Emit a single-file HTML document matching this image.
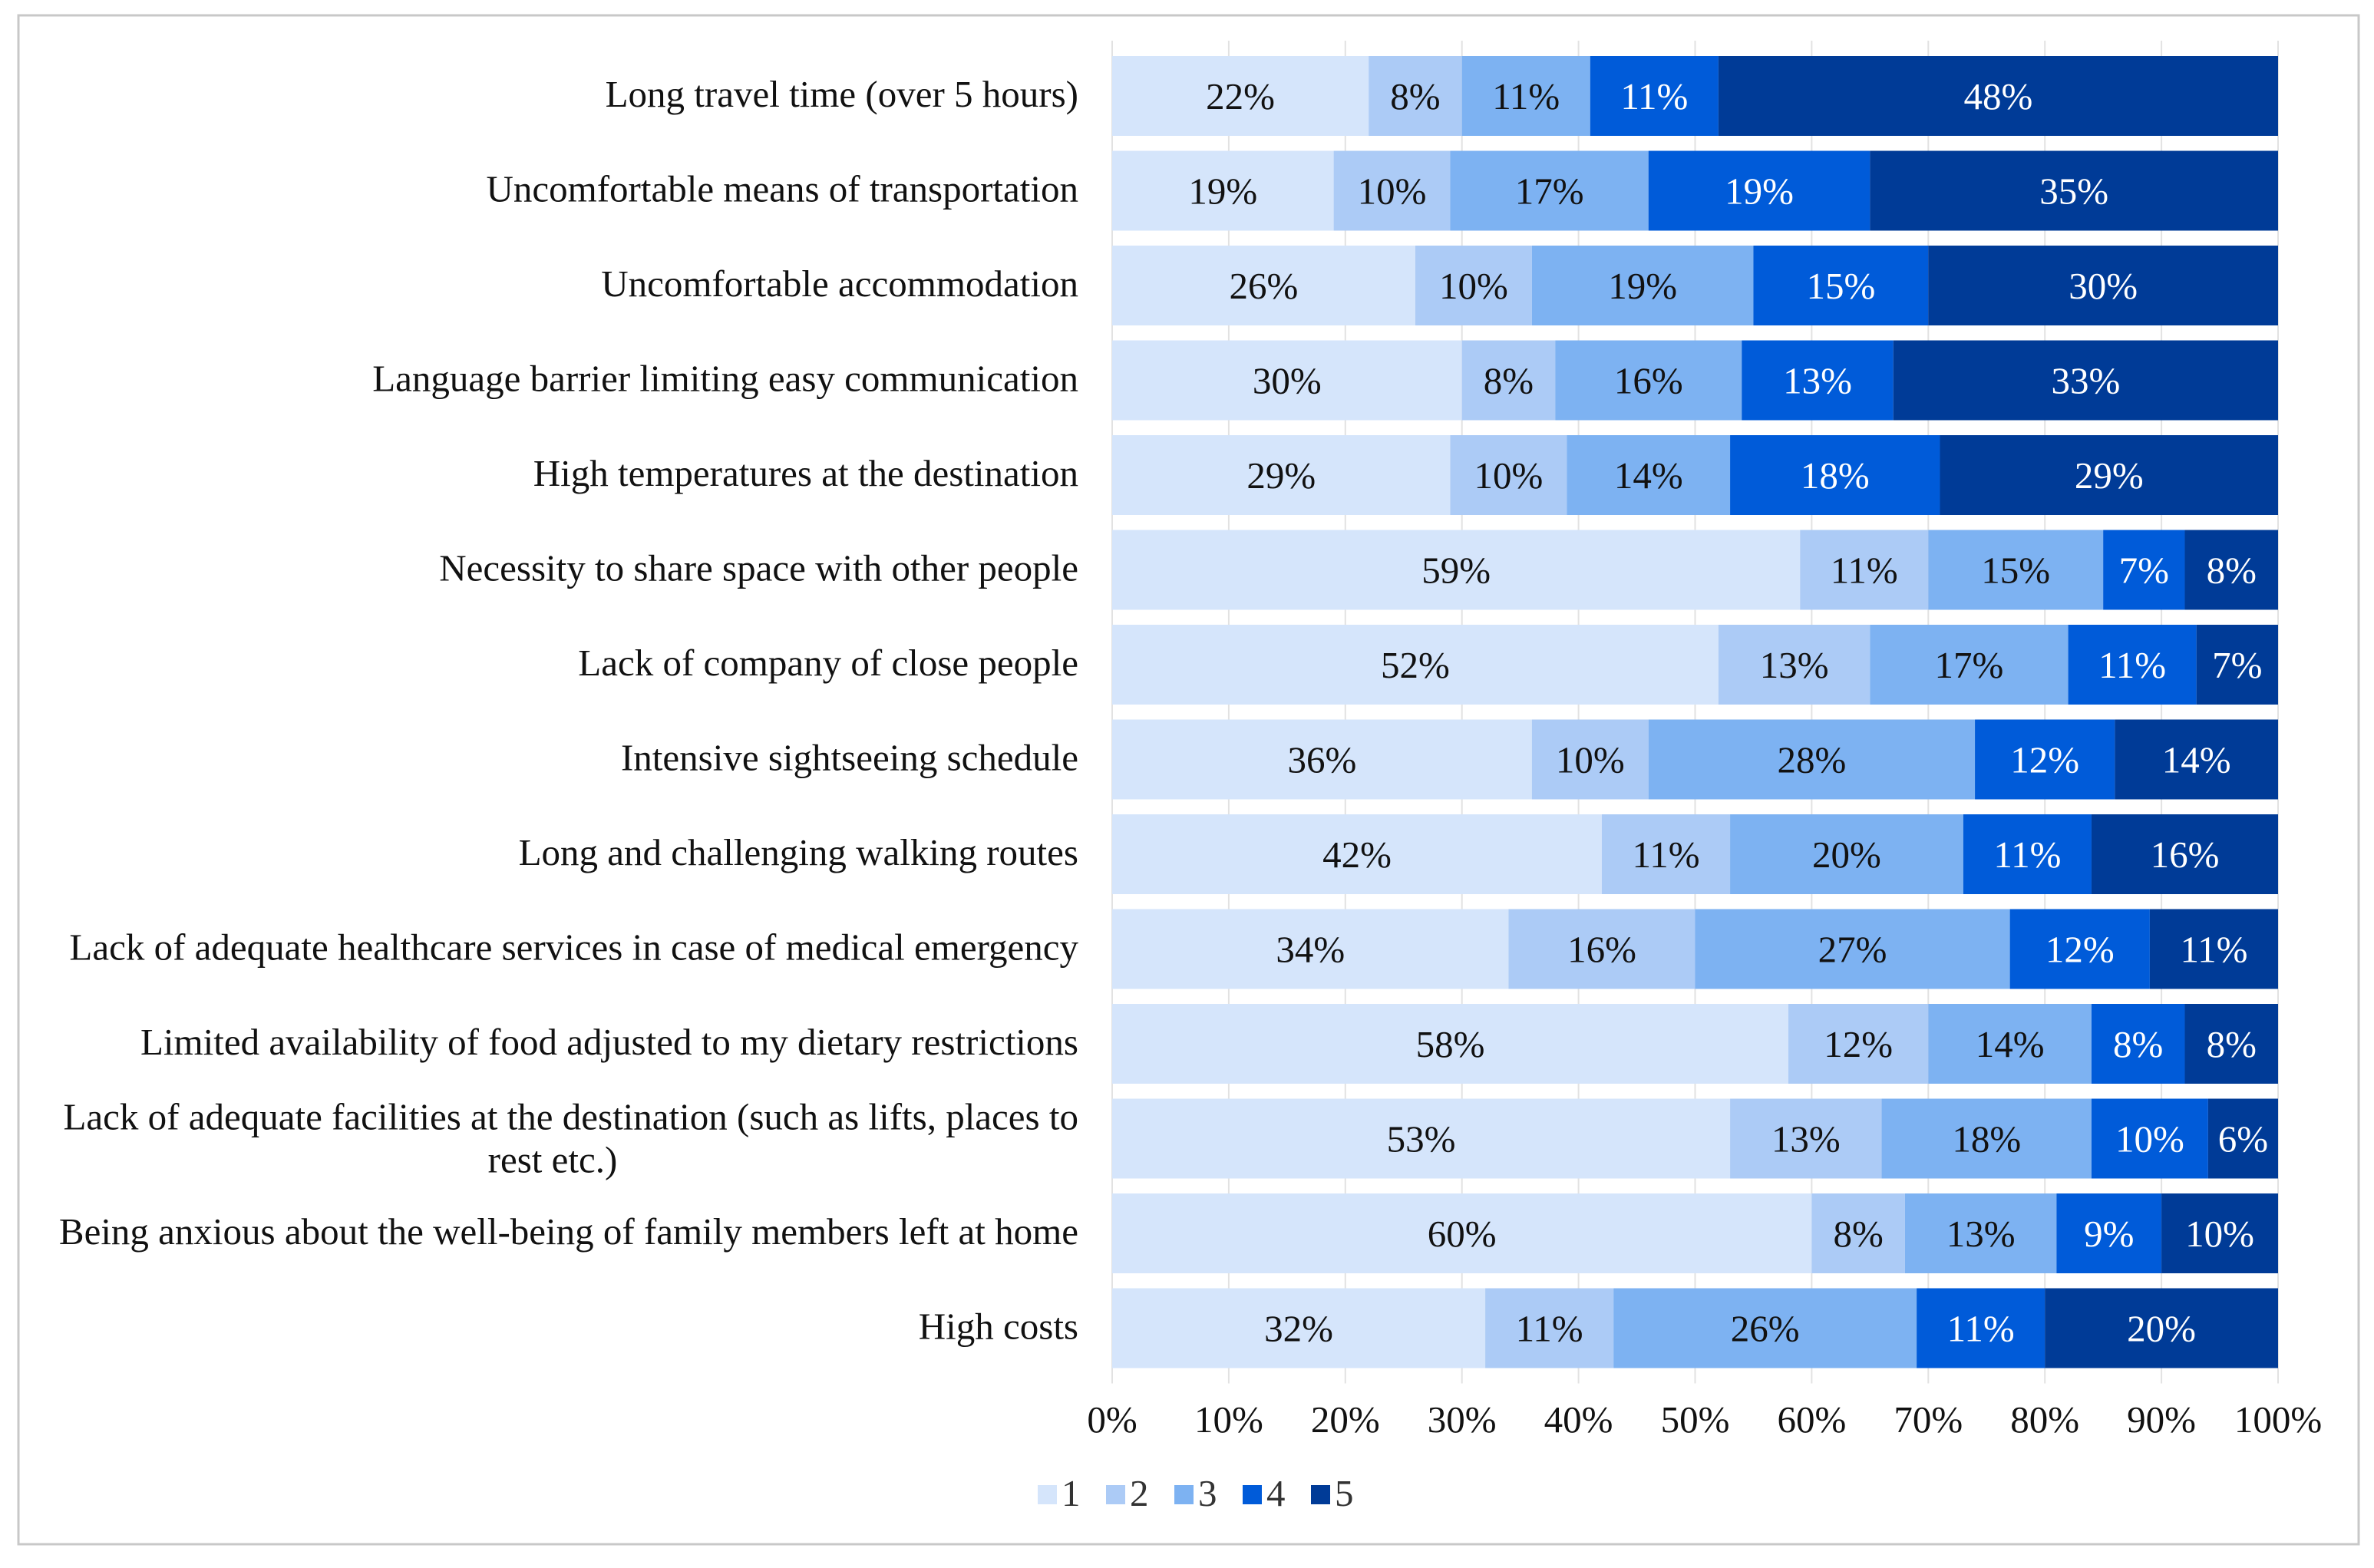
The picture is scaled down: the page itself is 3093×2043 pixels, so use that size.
<!DOCTYPE html>
<html><head><meta charset="utf-8"><style>
html,body{margin:0;padding:0;background:#fff;}
svg{display:block;}
text{font-family:"Liberation Serif","Times New Roman",serif;}
</style></head><body>
<svg id="chart" width="3093" height="2043" viewBox="0 0 3093 2043">
<rect x="24" y="20" width="3049" height="1992" fill="#fff" stroke="#c8c8c8" stroke-width="3"/>
<g id="grid"></g><g id="bars"></g><g id="labels"></g><g id="ticks"></g><g id="legend"></g>
</svg>
<script>
const categories = ["Long travel time (over 5 hours)","Uncomfortable means of transportation","Uncomfortable accommodation","Language barrier limiting easy communication","High temperatures at the destination","Necessity to share space with other people","Lack of company of close people","Intensive sightseeing schedule","Long and challenging walking routes","Lack of adequate healthcare services in case of medical emergency","Limited availability of food adjusted to my dietary restrictions","Lack of adequate facilities at the destination (such as lifts, places to|rest etc.)","Being anxious about the well-being of family members left at home","High costs"];
const s1 = [22,19,26,30,29,59,52,36,42,34,58,53,60,32];
const s2 = [8,10,10,8,10,11,13,10,11,16,12,13,8,11];
const s3 = [11,17,19,16,14,15,17,28,20,27,14,18,13,26];
const s4 = [11,19,15,13,18,7,11,12,11,12,8,10,9,11];
const s5 = [48,35,30,33,29,8,7,14,16,11,8,6,10,20];
const seriesNames = ["1","2","3","4","5"];
const tickValues = [0,10,20,30,40,50,60,70,80,90,100];
const colors = ["#d5e5fb","#accbf6","#7db2f2","#005bd9","#003b97"];
const textColors = ["#111","#111","#111","#fff","#fff"];
const NS="http://www.w3.org/2000/svg";
const X0=1449,X1=2968,Y0=125,PITCH=123.5,BH=104,FS=49;
const xs=v=>X0+(X1-X0)*v/100;
const yc=i=>Y0+PITCH*i;
function mk(tag,attrs,parent){const e=document.createElementNS(NS,tag);for(const k in attrs)e.setAttribute(k,attrs[k]);parent.appendChild(e);return e;}
const grid=document.getElementById('grid'),bars=document.getElementById('bars'),labels=document.getElementById('labels'),ticks=document.getElementById('ticks'),legend=document.getElementById('legend');
tickValues.forEach(t=>{
  const l=mk('line',{x1:xs(t),x2:xs(t),y1:yc(0)-BH/2-20,y2:yc(categories.length-1)+BH/2+20,stroke:'#e2e2e2','stroke-width':2},grid);
  
  
  const tx=mk('text',{x:xs(t),y:1866,'text-anchor':'middle','font-size':FS,fill:'#111'},ticks);
  tx.textContent=t+'%';
  
  
});
const series=[s1,s2,s3,s4,s5];
categories.forEach((c,i)=>{
  let acc=0;
  series.forEach((s,k)=>{
    const v=s[i];
    const r=mk('rect',{x:xs(acc),y:yc(i)-BH/2,width:xs(acc+v)-xs(acc),height:BH,fill:colors[k]},bars);
    
    
    const t=mk('text',{x:(xs(acc)+xs(acc+v))/2,y:yc(i)+17,'text-anchor':'middle','font-size':FS,fill:textColors[k]},bars);
    t.textContent=v+'%';
    
    
    acc+=v;
  });
  const parts=c.split('|');
  if(parts.length===1){
    const t=mk('text',{x:1405,y:yc(i)+14,'text-anchor':'end','font-size':FS,fill:'#111'},labels);
    t.textContent=c;
    
    
  } else {
    const t=mk('text',{x:1405,y:yc(i)-12,'text-anchor':'end','font-size':FS,fill:'#111'},labels);
    t.textContent=parts[0];
    
    
    const t2=mk('text',{x:720,y:yc(i)+44,'text-anchor':'middle','font-size':FS,fill:'#111'},labels);
    t2.textContent=parts[1];
    
    
  }
});
seriesNames.forEach((n,k)=>{
  const x=1352+k*89;
  const r=mk('rect',{x:x,y:1935,width:25,height:25,fill:colors[k]},legend);
  
  
  const t=mk('text',{x:x+31,y:1962,'font-size':FS,fill:'#333'},legend);
  t.textContent=n;
  
  
});
</script>
</body></html>
